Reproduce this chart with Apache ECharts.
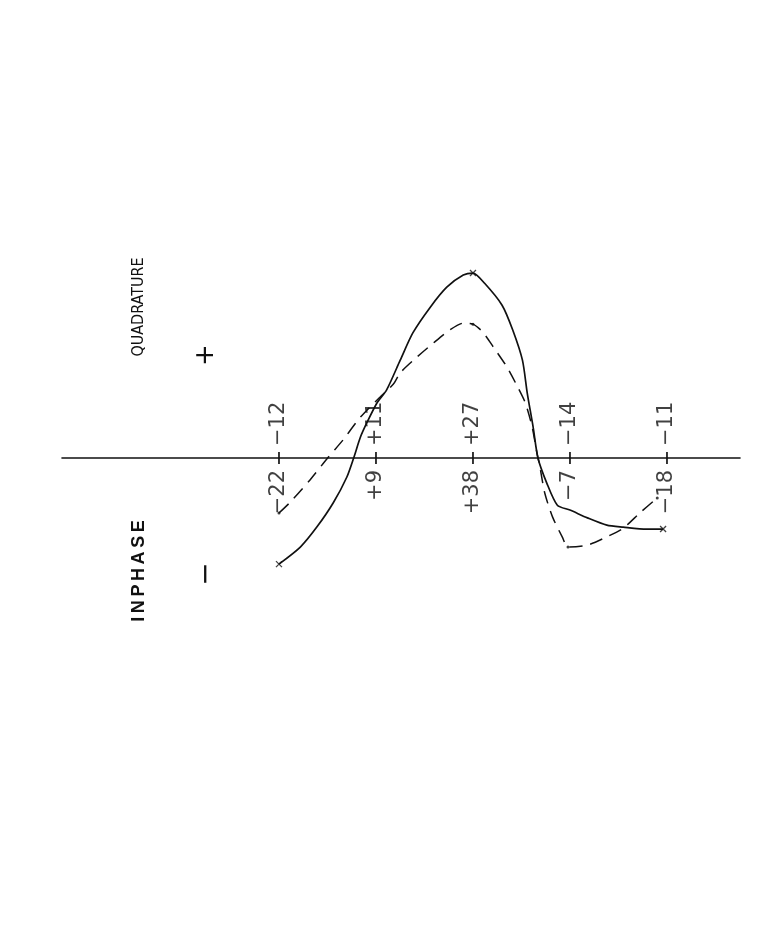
<!DOCTYPE html>
<html>
<head>
<meta charset="utf-8">
<script src="https://cdn.jsdelivr.net/npm/echarts@6/dist/echarts.min.js"></script>
<style>
  html, body { margin: 0; padding: 0; background: #ffffff; }
  #chart { width: 765px; height: 927px; }
</style>
</head>
<body>
<div id="chart"></div>
<script>
// Stations along the profile (0..4) and their printed values
const stations = [0, 1, 2, 3, 4];
const inphaseLabels = ['\u221222', '+9', '+38', '\u22127', '\u221218'];
const quadratureLabels = ['\u221212', '+11', '+27', '\u221214', '\u221211'];

// Inphase curve (solid): station position, value
const inphaseX = [0, 0.22, 0.39, 0.56, 0.70, 0.77, 0.84, 0.91, 1.01, 1.11, 1.25, 1.38, 1.56, 1.73, 1.90, 2.0, 2.12, 2.30, 2.41, 2.51, 2.56, 2.62, 2.67, 2.76, 2.87, 3.0, 3.18, 3.38, 3.55, 3.79, 3.96];
const inphaseY = [-21.8, -18.3, -14.2, -9.2, -3.9, 0, 4.3, 7.4, 11.3, 14.0, 20.1, 25.7, 31.0, 35.1, 37.6, 38.0, 35.9, 31.4, 26.3, 20.1, 13.3, 6.4, 0, -5.1, -9.7, -10.7, -12.3, -13.8, -14.2, -14.6, -14.6];
const inphaseMarks = [0, 15, 30];

// Quadrature curve (dashed)
const quadX = [0, 0.11, 0.32, 0.51, 0.66, 0.84, 1.04, 1.18, 1.25, 1.42, 1.59, 1.76, 1.90, 2.0, 2.10, 2.21, 2.35, 2.45, 2.54, 2.61, 2.66, 2.69, 2.74, 2.82, 2.92, 2.98, 3.18, 3.38, 3.55, 3.72, 3.90];
const quadY = [-11.3, -9.2, -4.5, 0.2, 3.7, 8.4, 12.5, 15.2, 17.5, 20.7, 23.6, 26.3, 27.7, 27.5, 25.9, 22.8, 18.7, 15.0, 11.3, 6.4, 1.0, -1.8, -7.2, -12.1, -16.2, -18.3, -17.9, -16.2, -14.4, -11.3, -8.2];
const quadMarks = [0, 13, 25, 30];

const pair = (xs, ys) => xs.map((x, i) => [x, ys[i]]);
const INK = '#111111';
const crossPath = 'path://M0,0L10,10M10,0L0,10';

const chart = echarts.init(document.getElementById('chart'), null, { renderer: 'canvas' });

const labelFont = {
  color: INK,
  fontFamily: 'DejaVu Sans',
  fontSize: 21
};

const option = {
  backgroundColor: '#ffffff',
  animation: false,
  grid: { left: 62, right: 25, top: 166, height: 584 },
  xAxis: {
    type: 'value',
    min: -2.237,
    max: 4.753,
    axisLine: { show: true, onZero: true, lineStyle: { color: INK, width: 1.6 } },
    axisTick: { show: false },
    axisLabel: { show: false },
    splitLine: { show: false }
  },
  yAxis: {
    type: 'value',
    min: -60,
    max: 60,
    show: false,
    splitLine: { show: false }
  },
  series: [
    {
      name: 'Inphase',
      type: 'line',
      data: pair(inphaseX, inphaseY),
      smooth: 0.25,
      showSymbol: false,
      symbol: 'none',
      lineStyle: { color: INK, width: 1.7 },
      z: 3
    },
    {
      name: 'Quadrature',
      type: 'line',
      data: pair(quadX, quadY),
      smooth: 0.25,
      showSymbol: false,
      symbol: 'none',
      lineStyle: { color: INK, width: 1.5, type: [13, 8] },
      z: 3
    },
    {
      name: 'Inphase points',
      type: 'scatter',
      data: inphaseMarks.map(i => [inphaseX[i], inphaseY[i]]),
      symbol: crossPath,
      symbolSize: 6,
      itemStyle: { color: 'none', borderColor: INK, borderWidth: 1.3 },
      z: 4
    },
    {
      name: 'Quadrature points',
      type: 'scatter',
      data: quadMarks.map(i => [quadX[i], quadY[i]]),
      symbol: 'circle',
      symbolSize: 3,
      itemStyle: { color: INK },
      z: 4
    },
    {
      name: 'Station ticks below',
      type: 'scatter',
      data: stations.map((s, i) => ({ value: [s, 0], label: { formatter: inphaseLabels[i] } })),
      symbol: 'rect',
      symbolSize: [1.5, 12],
      itemStyle: { color: INK },
      label: Object.assign({
        show: true,
        position: 'bottom',
        distance: 6,
        rotate: 90,
        align: 'right',
        verticalAlign: 'middle'
      }, labelFont),
      z: 5
    },
    {
      name: 'Station ticks above',
      type: 'scatter',
      data: stations.map((s, i) => ({ value: [s, 0], label: { formatter: quadratureLabels[i] } })),
      symbol: 'rect',
      symbolSize: [1.5, 12],
      itemStyle: { color: INK },
      label: Object.assign({
        show: true,
        position: 'top',
        distance: 6,
        rotate: 90,
        align: 'left',
        verticalAlign: 'middle'
      }, labelFont),
      z: 5
    }
  ],
  graphic: [
    {
      type: 'text', x: 139, y: 307, rotation: Math.PI / 2,
      style: { text: 'QUADRATURE', fill: INK, font: '16px "Liberation Sans Narrow", "DejaVu Sans Condensed", sans-serif', textAlign: 'center', textVerticalAlign: 'middle' }
    },
    {
      type: 'text', x: 206, y: 355, rotation: Math.PI / 2,
      style: { text: '+', fill: INK, font: '26px "DejaVu Sans", sans-serif', textAlign: 'center', textVerticalAlign: 'middle' }
    },
    {
      type: 'text', x: 139, y: 571, rotation: Math.PI / 2,
      style: { text: 'I\u2009N\u2009P\u2009H\u2009A\u2009S\u2009E', fill: INK, font: 'bold 18px "Liberation Sans", "DejaVu Sans", sans-serif', textAlign: 'center', textVerticalAlign: 'middle' }
    },
    {
      type: 'text', x: 207, y: 574, rotation: Math.PI / 2,
      style: { text: '\u2212', fill: INK, font: '28px "DejaVu Sans", sans-serif', textAlign: 'center', textVerticalAlign: 'middle' }
    }
  ]
};

chart.setOption(option);
</script>
</body>
</html>
